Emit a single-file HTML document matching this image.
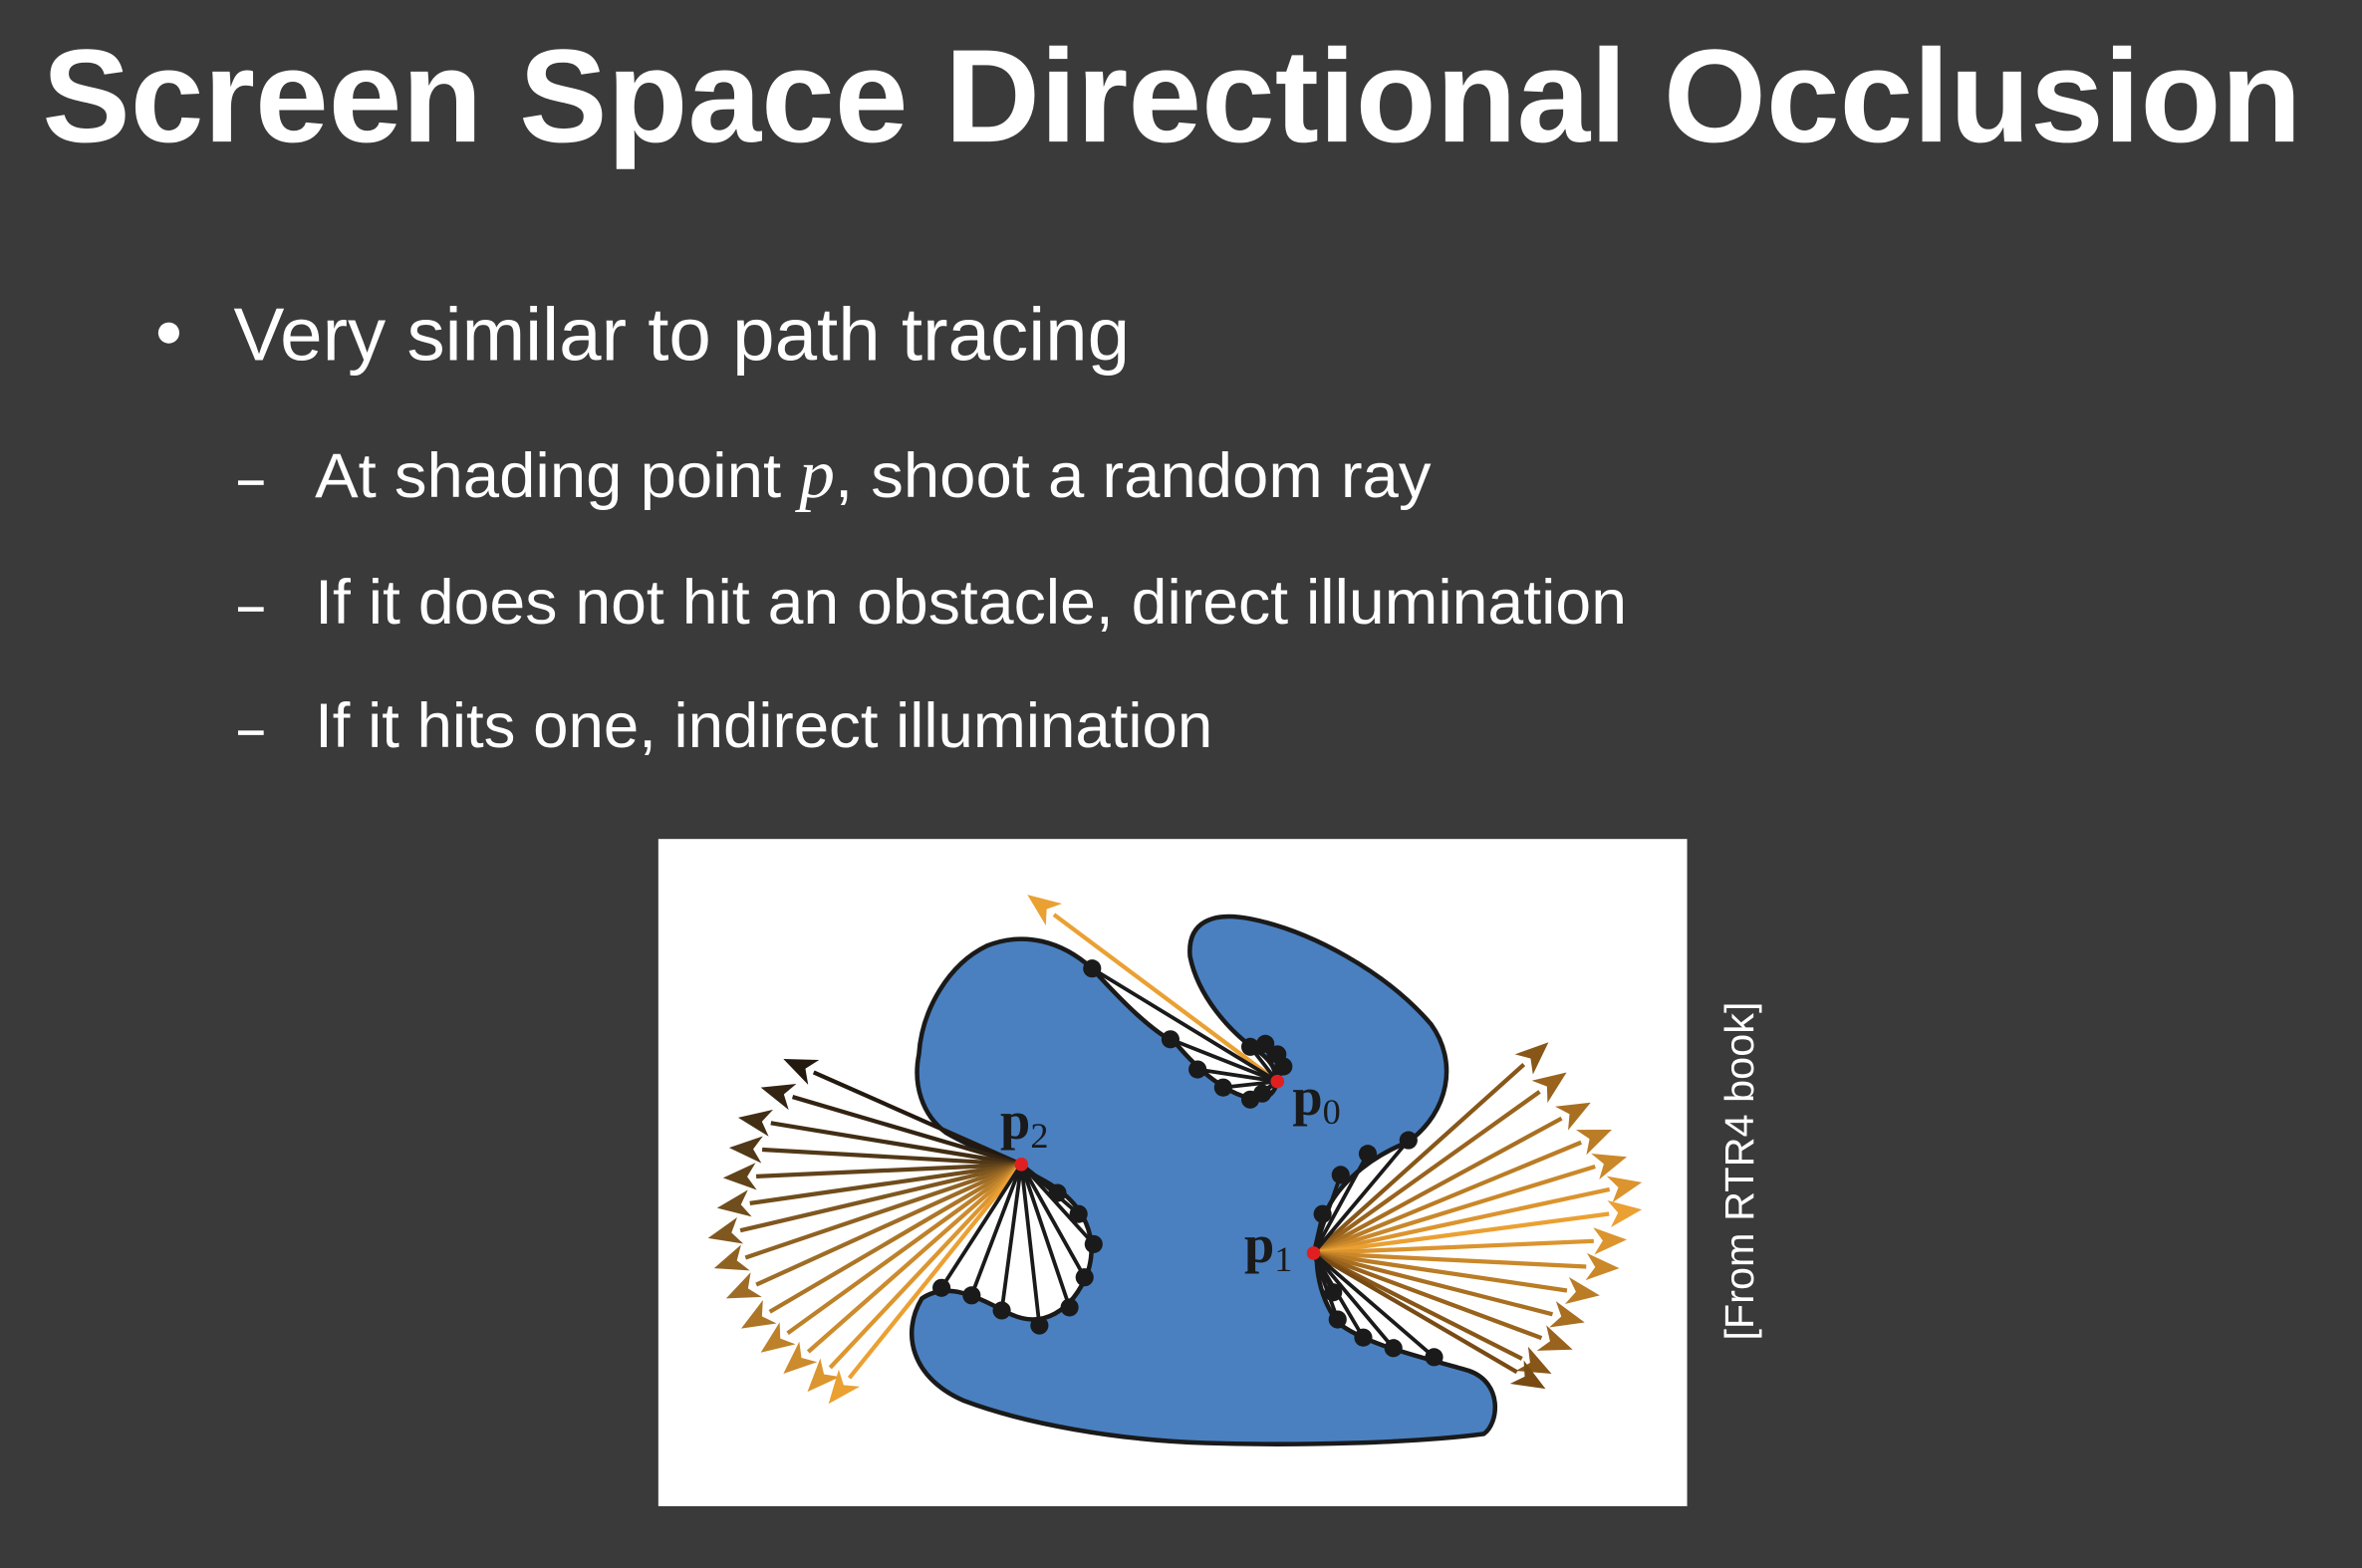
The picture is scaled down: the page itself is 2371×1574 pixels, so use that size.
<!DOCTYPE html>
<html><head><meta charset="utf-8">
<style>
html,body{margin:0;padding:0;background:#3a3a3a;width:2371px;height:1574px;overflow:hidden}
svg{display:block}
</style></head>
<body>
<svg id="s" width="2371" height="1574" viewBox="0 0 1568 1041" xmlns="http://www.w3.org/2000/svg">
<rect width="1568" height="1041" fill="#3a3a3a"/>
<text x="28" y="94" font-family="Liberation Sans, sans-serif" font-weight="bold" font-size="88" fill="#ffffff" textLength="1500" lengthAdjust="spacingAndGlyphs">Screen Space Directional Occlusion</text>
<circle cx="112" cy="221" r="7" fill="#fff"/>
<text x="155" y="239" font-family="Liberation Sans, sans-serif" font-size="50" fill="#fff" textLength="595" lengthAdjust="spacingAndGlyphs">Very similar to path tracing</text>
<g font-family="Liberation Sans, sans-serif" font-size="42" fill="#fff">
<rect x="158" y="319" width="17" height="3"/>
<text x="209" y="330" textLength="741" lengthAdjust="spacingAndGlyphs">At shading point <tspan font-family="Liberation Serif, serif" font-style="italic" font-size="46">p</tspan>, shoot a random ray</text>
<rect x="158" y="403" width="17" height="3"/>
<text x="209" y="414" textLength="871" lengthAdjust="spacingAndGlyphs">If it does not hit an obstacle, direct illumination</text>
<rect x="158" y="485" width="17" height="3"/>
<text x="209" y="496" textLength="596" lengthAdjust="spacingAndGlyphs">If it hits one, indirect illumination</text>
</g>
<rect x="437" y="557" width="683" height="443" fill="#ffffff"/>
<path fill="#4a80c0" stroke="#1a1a1a" stroke-width="3" stroke-linejoin="round"
d="M610,700 C612,670 630,640 655,628 C680,618 705,625 725,643 C745,665 765,685 780,692 C795,710 815,728 835,730 C850,728 852,712 838,700 C815,685 795,660 790,635 C788,612 805,605 830,610 C870,618 920,645 950,680 C968,705 962,738 935,758 C905,770 885,790 878,810 C870,835 875,860 888,878 C905,892 940,900 975,910 C998,918 995,945 985,952 C940,958 860,960 800,958 C740,956 680,945 640,930 C605,915 598,885 612,862 C630,850 650,862 670,872 C692,883 712,870 722,845 C730,820 718,800 700,788 C680,775 650,765 628,752 C612,740 606,720 610,700 Z"/>
<g id="rays"></g>
<g font-family="Liberation Serif, serif" font-weight="bold" fill="#1a1a1a">
<text x="664" y="756" font-size="36">p<tspan font-size="24" font-weight="normal" dy="6">2</tspan></text>
<text x="858" y="740" font-size="36">p<tspan font-size="24" font-weight="normal" dy="6">0</tspan></text>
<text x="826" y="838" font-size="36">p<tspan font-size="24" font-weight="normal" dy="6">1</tspan></text>
</g>
<text transform="translate(1164,890) rotate(-90)" font-family="Liberation Sans, sans-serif" font-size="27" fill="#fff" textLength="225" lengthAdjust="spacingAndGlyphs">[From RTR4 book]</text>
</svg>
<script>
const p2=[678,773], p1=[872,832], p0=[848,718];
const p2Arrows=[[520,703],[505,722],[490,742],[484,762],[480,782],[476,802],[470,822],[474,842],[482,862],[492,882],[505,898],[520,912],[536,924],[550,932]];
const p1Arrows=[[1028,692],[1040,712],[1056,732],[1070,750],[1080,768],[1090,785],[1090,803],[1080,823],[1075,842],[1062,860],[1052,878],[1044,896],[1030,912],[1026,922]];
const p0Arrows=[[682,594]];
const p2Dots=[[625,855],[645,860],[665,870],[690,880],[710,868],[720,848],[726,826],[716,806],[702,792]];
const p1Dots=[[878,806],[890,780],[908,766],[935,757],[885,858],[888,876],[905,888],[925,895],[952,901]];
const p0Dots=[[725,643],[777,690],[795,710],[812,722],[830,730],[838,726],[830,695],[840,693],[848,700],[852,708]];
const g=document.getElementById('rays');
const NS='http://www.w3.org/2000/svg';
function mix(a,b,t){return 'rgb('+a.map((v,i)=>Math.round(v+(b[i]-v)*t)).join(',')+')';}
function arrow(o,e,col,name){
  const dx=e[0]-o[0],dy=e[1]-o[1],L=Math.hypot(dx,dy),ux=dx/L,uy=dy/L;
  const bx=e[0]-ux*22,by=e[1]-uy*22;
  const l=document.createElementNS(NS,'line');
  l.setAttribute('x1',o[0]);l.setAttribute('y1',o[1]);l.setAttribute('x2',bx);l.setAttribute('y2',by);
  l.setAttribute('stroke',col);l.setAttribute('stroke-width','2.8');
  
  
  g.appendChild(l);
  const h=document.createElementNS(NS,'polygon');
  h.setAttribute('points',e[0]+','+e[1]+' '+(bx-uy*9)+','+(by+ux*9)+' '+(bx+ux*6)+','+(by+uy*6)+' '+(bx+uy*9)+','+(by-ux*9));
  h.setAttribute('fill',col);
  
  
  g.appendChild(h);
}
function seg(o,d,name){
  const l=document.createElementNS(NS,'line');
  l.setAttribute('x1',o[0]);l.setAttribute('y1',o[1]);l.setAttribute('x2',d[0]);l.setAttribute('y2',d[1]);
  l.setAttribute('stroke','#1a1a1a');l.setAttribute('stroke-width','2.5');
  
  
  g.appendChild(l);
  const c=document.createElementNS(NS,'circle');
  c.setAttribute('cx',d[0]);c.setAttribute('cy',d[1]);c.setAttribute('r','6');c.setAttribute('fill','#1a1a1a');
  
  
  g.appendChild(c);
}
const dark=[35,25,15], orange=[235,160,50];
p2Arrows.forEach((e,i)=>arrow(p2,e,mix(dark,orange,i/(p2Arrows.length-1)),'p2-ray'));
p1Arrows.forEach((e,i)=>{const t=1-Math.abs(i-6)/7;arrow(p1,e,mix([120,75,20],orange,t),'p1-ray');});
p0Arrows.forEach(e=>arrow(p0,e,'rgb(235,160,50)','p0-ray'));
p2Dots.forEach(d=>seg(p2,d,'p2-occluded-ray'));
p1Dots.forEach(d=>seg(p1,d,'p1-occluded-ray'));
p0Dots.forEach(d=>seg(p0,d,'p0-occluded-ray'));
[[p2,'p2-point'],[p1,'p1-point'],[p0,'p0-point']].forEach(([p,n])=>{
  const c=document.createElementNS(NS,'circle');
  c.setAttribute('cx',p[0]);c.setAttribute('cy',p[1]);c.setAttribute('r','4.5');c.setAttribute('fill','#e02020');
  
  
  g.appendChild(c);
});
</script>
</body></html>
